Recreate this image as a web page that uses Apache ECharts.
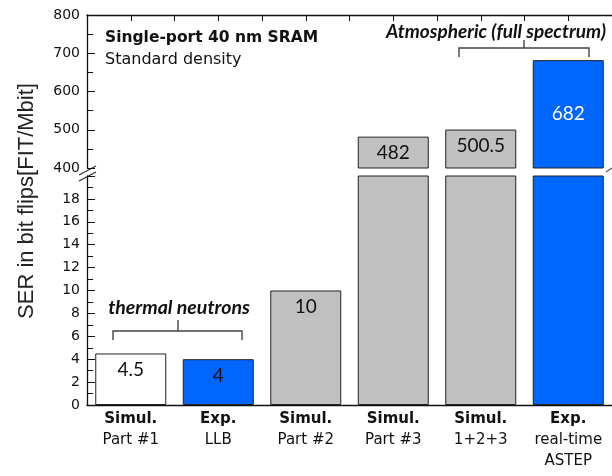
<!DOCTYPE html>
<html>
<head>
<meta charset="utf-8">
<script src="https://cdn.jsdelivr.net/npm/echarts@6/dist/echarts.min.js"></script>
<style>
  html, body { margin: 0; padding: 0; background: #fff; }
  #chart { width: 612px; height: 476px; }
</style>
</head>
<body>
<div id="chart"></div>
<script>
// Soft error rate of a single-port 40 nm SRAM (FIT/Mbit)
const catTop = ['Simul.', 'Exp.', 'Simul.', 'Simul.', 'Simul.', 'Exp.'];
const catBottom = ['Part #1', 'LLB', 'Part #2', 'Part #3', '1+2+3', 'real-time\nASTEP'];
const serValues = [4.5, 4, 10, 482, 500.5, 682];
const barColors = ['#ffffff', '#0066ff', '#c0c0c0', '#c0c0c0', '#c0c0c0', '#0066ff'];
const labelColors = ['#111', '#111', '#111', '#111', '#111', '#ffffff'];

const lowAxisTicks = { min: 0, max: 20, interval: 2 };
const highAxisTicks = { min: 400, max: 800, interval: 100 };

const categories = catTop.map((t, i) =>
  '{b|' + t + '}\n' + catBottom[i].split('\n').map(s => '{r|' + s + '}').join('\n'));

const chart = echarts.init(document.getElementById('chart'), null, { renderer: 'canvas' });

const ink = '#111';
const tickFont = { fontFamily: 'DejaVu Sans', fontSize: 14, color: ink };

function barItem(v, i, showLabel, pos) {
  return {
    value: v,
    itemStyle: { color: barColors[i], borderColor: '#222', borderWidth: 1 },
    label: showLabel ? {
      show: true, position: pos, distance: 7,
      fontFamily: 'Lato', fontSize: 19, color: labelColors[i],
      formatter: String(v)
    } : { show: false }
  };
}

const lowData = serValues.map((v, i) => barItem(v, i, v <= lowAxisTicks.max, 'insideTop'));
const highData = serValues.map((v, i) =>
  v >= highAxisTicks.min ? barItem(v, i, true, v > 600 ? 'inside' : 'insideTop') : null);

const gridLeft = 87, gridWidth = 528;

chart.setOption({
  animation: false,
  backgroundColor: '#fff',
  grid: [
    { left: gridLeft, width: gridWidth, top: 15, height: 153 },
    { left: gridLeft, width: gridWidth, top: 176, height: 229 }
  ],
  xAxis: [
    { type: 'category', gridIndex: 0, data: categories, show: false },
    { type: 'category', gridIndex: 1, data: categories,
      axisLine: { lineStyle: { color: ink, width: 1.3 } },
      axisTick: { alignWithLabel: true, length: 6, lineStyle: { color: ink } },
      axisLabel: {
        margin: 4, interval: 0, lineHeight: 21,
        rich: {
          b: { fontFamily: 'DejaVu Sans', fontWeight: 'bold', fontSize: 15, color: ink, lineHeight: 21 },
          r: { fontFamily: 'DejaVu Sans', fontSize: 15, color: ink, lineHeight: 21 }
        }
      }
    },
    // top frame line with half-category tick marks
    { type: 'value', gridIndex: 0, position: 'top', min: 0, max: 12, interval: 1,
      axisLine: { show: true, lineStyle: { color: ink, width: 1.3 } },
      axisTick: { show: true, inside: true, length: 6, lineStyle: { color: ink } },
      axisLabel: { show: false }, splitLine: { show: false } }
  ],
  yAxis: [
    { type: 'value', gridIndex: 0, min: highAxisTicks.min, max: highAxisTicks.max,
      interval: highAxisTicks.interval,
      axisLine: { show: true, lineStyle: { color: ink, width: 1.3 } },
      axisTick: { show: true, inside: true, length: 8, lineStyle: { color: ink } },
      minorTick: { show: true, splitNumber: 2, length: 6, lineStyle: { color: ink } },
      axisLabel: Object.assign({ margin: 7 }, tickFont),
      splitLine: { show: false } },
    { type: 'value', gridIndex: 1, min: lowAxisTicks.min, max: lowAxisTicks.max,
      interval: lowAxisTicks.interval,
      axisLine: { show: true, lineStyle: { color: ink, width: 1.3 } },
      axisTick: { show: true, inside: true, length: 8, lineStyle: { color: ink } },
      minorTick: { show: true, splitNumber: 2, length: 6, lineStyle: { color: ink } },
      axisLabel: Object.assign({ margin: 7, showMaxLabel: false }, tickFont),
      splitLine: { show: false } }
  ],
  series: [
    { type: 'bar', xAxisIndex: 0, yAxisIndex: 0, data: highData, barWidth: 71, clip: true },
    { type: 'bar', xAxisIndex: 1, yAxisIndex: 1, data: lowData, barWidth: 71, clip: true }
  ],
  graphic: [
    { type: 'text', x: 27, y: 201, rotation: Math.PI / 2,
      style: { text: 'SER in bit flips[FIT/Mbit]', fontFamily: 'Liberation Sans', fontSize: 22,
               fill: '#222', align: 'center', verticalAlign: 'middle' } },
    { type: 'text', x: 105, y: 38,
      style: { text: 'Single-port 40 nm SRAM', fontFamily: 'DejaVu Sans', fontWeight: 'bold',
               fontSize: 15.5, fill: ink, verticalAlign: 'middle' } },
    { type: 'text', x: 105, y: 60,
      style: { text: 'Standard density', fontFamily: 'DejaVu Sans', fontSize: 16,
               fill: ink, verticalAlign: 'middle' } },
    { type: 'text', x: 496, y: 32,
      style: { text: 'Atmospheric (full spectrum)', fontFamily: 'Lato', fontWeight: 'bold',
               fontStyle: 'italic', fontSize: 19, fill: ink, align: 'center', verticalAlign: 'middle' } },
    { type: 'text', x: 179, y: 308,
      style: { text: 'thermal neutrons', fontFamily: 'Lato', fontWeight: 'bold',
               fontStyle: 'italic', fontSize: 19.5, fill: ink, align: 'center', verticalAlign: 'middle' } },
    // brackets
    { type: 'polyline', shape: { points: [[113, 340], [113, 331], [178, 331], [178, 320], [178, 331], [242, 331], [242, 340]] },
      style: { stroke: '#444', lineWidth: 1.4, fill: null } },
    { type: 'polyline', shape: { points: [[459, 57], [459, 48], [524, 48], [524, 40], [524, 48], [589, 48], [589, 57]] },
      style: { stroke: '#444', lineWidth: 1.4, fill: null } },
    // axis break marks
    { type: 'rect', shape: { x: 80, y: 168, width: 14, height: 8 }, style: { fill: '#fff' } },
    { type: 'line', shape: { x1: 79, y1: 175, x2: 96, y2: 166 }, style: { stroke: '#333', lineWidth: 1.3 } },
    { type: 'line', shape: { x1: 79, y1: 181, x2: 96, y2: 172 }, style: { stroke: '#333', lineWidth: 1.3 } },
    { type: 'line', shape: { x1: 606, y1: 172, x2: 612, y2: 168 }, style: { stroke: '#555', lineWidth: 1.2 } }
  ]
});
</script>
</body>
</html>
